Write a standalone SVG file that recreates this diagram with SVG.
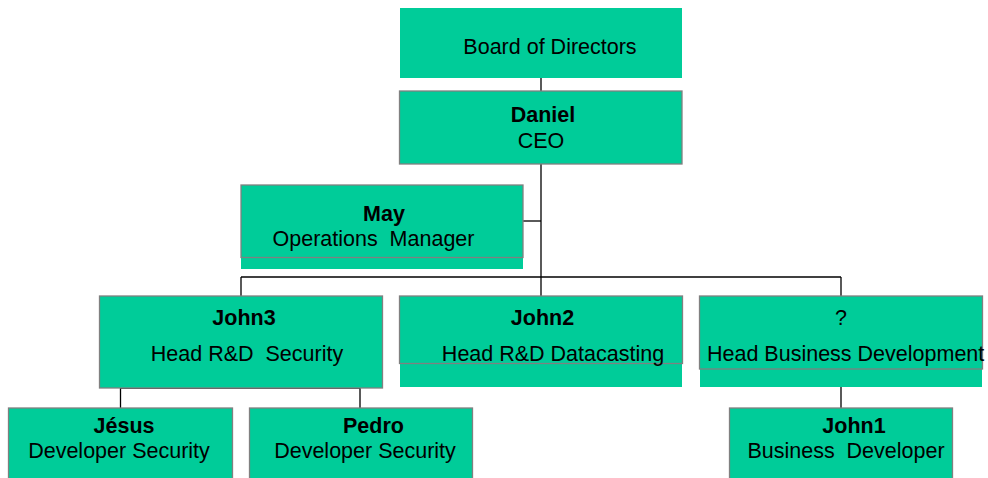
<svg xmlns="http://www.w3.org/2000/svg" width="988" height="478" viewBox="0 0 988 478">
  <style>
    .box { fill: #00CC99; stroke: #808080; stroke-width: 1.3; }
    .pad { fill: #00CC99; stroke: none; }
    .t { font-family: "Liberation Sans", Arial, sans-serif; font-size: 21.5px; fill: #000; white-space: pre; }
    .b { font-weight: bold; }
    .m { text-anchor: middle; }
    .wire { stroke: #000; stroke-width: 1.3; fill: none; }
  </style>
  <rect width="988" height="478" fill="#fff"/>

  <!-- reporting lines -->
  <g id="connectors" class="wire">
    <line x1="541" y1="78" x2="541" y2="91"/>
    <line x1="541" y1="164" x2="541" y2="277"/>
    <line x1="523" y1="221" x2="541" y2="221"/>
    <line x1="241" y1="277" x2="841" y2="277"/>
    <line x1="241" y1="277" x2="241" y2="296"/>
    <line x1="541" y1="277" x2="541" y2="296"/>
    <line x1="841" y1="277" x2="841" y2="296"/>
    <line x1="120.5" y1="388" x2="360" y2="388"/>
    <line x1="120.5" y1="388" x2="120.5" y2="408"/>
    <line x1="360" y1="388" x2="360" y2="408"/>
    <line x1="841" y1="387" x2="841" y2="408"/>
  </g>

  <g id="board">
    <rect class="pad" x="400" y="8" width="282" height="70"/>
    <text class="t m" x="550" y="54">Board of Directors</text>
  </g>

  <g id="daniel">
    <rect class="box" x="399.5" y="91" width="282.5" height="73"/>
    <text class="t b m" x="543" y="122">Daniel</text>
    <text class="t m" x="541" y="148">CEO</text>
  </g>

  <g id="may">
    <rect class="pad" x="241" y="185" width="282" height="84"/>
    <rect class="box" x="241" y="185" width="282" height="72.5"/>
    <text class="t b m" x="384" y="221">May</text>
    <text class="t m" x="373.5" y="246">Operations  Manager</text>
  </g>

  <g id="john3">
    <rect class="box" x="99.5" y="296" width="283" height="92"/>
    <text class="t b m" x="244" y="325">John3</text>
    <text class="t m" x="247" y="361">Head R&amp;D  Security</text>
  </g>

  <g id="john2">
    <rect class="pad" x="400" y="296" width="282" height="91"/>
    <rect class="box" x="399.5" y="296" width="283" height="67.5"/>
    <text class="t b m" x="542.5" y="325">John2</text>
    <text class="t m" x="553" y="361">Head R&amp;D Datacasting</text>
  </g>

  <g id="head-bizdev">
    <rect class="pad" x="700" y="296" width="282" height="91"/>
    <rect class="box" x="699.5" y="296" width="283" height="73"/>
    <text class="t m" x="841" y="325">?</text>
    <text class="t" x="707" y="361">Head Business Development</text>
  </g>

  <g id="jesus">
    <rect class="box" x="8.5" y="408" width="224" height="80"/>
    <text class="t b m" x="124" y="433">Jésus</text>
    <text class="t m" x="119" y="458">Developer Security</text>
  </g>

  <g id="pedro">
    <rect class="box" x="249.5" y="408" width="223" height="80"/>
    <text class="t b m" x="373.5" y="433">Pedro</text>
    <text class="t m" x="365" y="458">Developer Security</text>
  </g>

  <g id="john1">
    <rect class="box" x="729.5" y="408" width="223" height="80"/>
    <text class="t b m" x="854" y="433">John1</text>
    <text class="t m" x="846" y="458">Business  Developer</text>
  </g>
</svg>
